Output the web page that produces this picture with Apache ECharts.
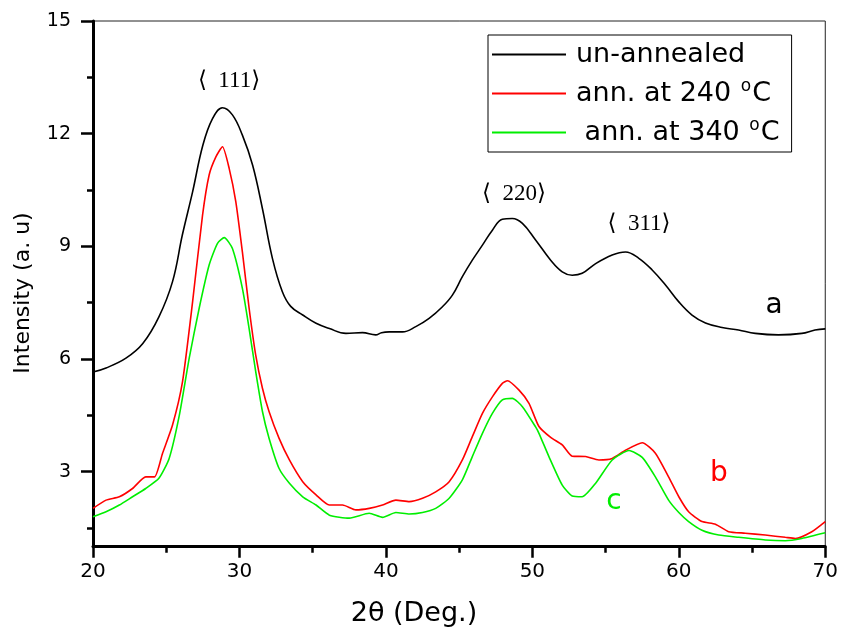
<!DOCTYPE html>
<html>
<head>
<meta charset="utf-8">
<script src="https://cdn.jsdelivr.net/npm/echarts@6/dist/echarts.min.js"></script>
<style>
html,body{margin:0;padding:0;background:#fff;}
#c{width:841px;height:631px;}
</style>
</head>
<body>
<div id="c"></div>
<script>
// ---- data ----
const seriesNames = ['un-annealed', 'ann. at 240 °C', ' ann. at 340 °C'];

const blackX = [20,20.89,22.25,23.4,24.5,25.43,26.1,26.8,27.5,28.16,28.84,29.52,30.2,30.9,31.57,32.25,32.93,33.5,34.32,35.23,36.14,37.27,38.4,39.3,39.7,40.23,41.13,42.04,42.95,43.86,44.54,45.22,45.9,46.59,47.27,47.95,48.63,49.32,50.22,51.25,52.04,52.72,53.4,54.32,55.45,56.36,57.27,58.18,59.09,60,60.9,61.82,62.95,64.08,65.22,66.8,68.4,69.3,70];
const blackY = [5.65,5.76,6.02,6.41,7.12,8.06,9.3,10.45,11.69,12.4,12.69,12.5,11.96,11.16,10.0,8.68,7.79,7.4,7.17,6.95,6.81,6.68,6.70,6.64,6.70,6.72,6.72,6.86,7.08,7.39,7.70,8.19,8.63,9.03,9.43,9.72,9.74,9.61,9.17,8.63,8.32,8.23,8.28,8.54,8.77,8.85,8.68,8.37,7.97,7.52,7.17,6.96,6.84,6.77,6.68,6.64,6.68,6.77,6.80];

const redX = [20,20.89,21.8,22.7,23.6,24.2,24.75,25.43,26.11,26.8,27.48,27.93,28.39,28.84,29.3,29.75,30.2,30.66,31.11,31.57,32.02,32.7,33.41,34.32,35.23,36.14,37.04,37.95,38.86,39.77,40.68,41.6,42.5,43.4,44.32,45.22,45.9,46.59,47.27,47.95,48.3,49.09,49.77,50.45,51.25,52.04,52.72,53.63,54.54,55.45,56.36,57.5,58.4,59.3,60,60.67,61.58,62.5,63.4,64.54,65.9,67.27,67.95,69.08,70];
const redY = [2.02,2.24,2.33,2.55,2.86,2.86,3.49,4.24,5.39,7.52,9.83,10.9,11.38,11.65,11.07,10.19,8.85,7.35,6.10,5.22,4.6,3.89,3.31,2.73,2.38,2.11,2.11,1.98,2.02,2.11,2.24,2.2,2.29,2.46,2.73,3.31,3.93,4.55,4.99,5.35,5.42,5.17,4.82,4.2,3.91,3.71,3.41,3.40,3.31,3.35,3.57,3.77,3.49,2.86,2.33,1.93,1.67,1.6,1.4,1.36,1.31,1.25,1.22,1.4,1.67];

const greenX = [20,20.89,21.8,22.7,23.6,24.5,25.2,25.9,26.57,27.25,27.93,28.5,28.96,29.52,30.2,30.66,31.11,31.57,32.02,32.7,33.41,34.32,35.23,36.14,37.5,38.86,39.77,40.68,41.6,42.5,43.4,44.32,45.22,45.9,46.59,47.27,47.95,48.63,49.32,50.22,50.45,51.13,52.04,52.72,53.4,54.32,55.45,56.6,57.5,58.4,59.3,60,60.67,61.58,62.73,64.08,65.9,67.27,68.4,70];
const greenY = [1.8,1.93,2.11,2.33,2.55,2.82,3.35,4.51,6.02,7.35,8.5,9.08,9.23,8.94,7.88,6.81,5.66,4.6,3.89,3.09,2.69,2.33,2.11,1.84,1.76,1.89,1.78,1.91,1.87,1.91,2.02,2.29,2.78,3.4,4.02,4.55,4.91,4.95,4.73,4.19,4.02,3.4,2.64,2.35,2.33,2.69,3.31,3.56,3.38,2.86,2.24,1.91,1.67,1.44,1.31,1.25,1.18,1.16,1.22,1.37];

const yMajorTicks = [3, 6, 9, 12, 15];
const yMinorTicks = [1.5, 4.5, 7.5, 10.5, 13.5];

const peakLabels = ['\u27E8  111\u27E9', '\u27E8  220\u27E9', '\u27E8  311\u27E9'];
const curveLetters = ['a', 'b', 'c'];

// ---- chart ----
const zip = (xs, ys) => xs.map((x, i) => [x, ys[i]]);
const colors = ['#000000', '#ff0000', '#00ee00'];
const FONT = "'DejaVu Sans', sans-serif";
const SERIF = "'Liberation Serif', 'DejaVu Serif', serif";

const chart = echarts.init(document.getElementById('c'), null, {renderer: 'canvas'});

chart.setOption({
  animation: false,
  backgroundColor: '#ffffff',
  grid: {left: 93, top: 21, width: 734.5, height: 525.7, show: true, borderColor: '#222', borderWidth: 1, backgroundColor: 'transparent'},
  xAxis: {
    type: 'value', min: 20, max: 70, interval: 10,
    axisLine: {lineStyle: {color: '#000', width: 3}},
    axisTick: {show: true, inside: false, length: 11, lineStyle: {color: '#000', width: 2.5}},
    minorTick: {show: true, splitNumber: 2, length: 6, lineStyle: {color: '#000', width: 2.5}},
    splitLine: {show: false},
    axisLabel: {fontSize: 20, color: '#000', fontFamily: FONT, margin: 15}
  },
  yAxis: [{
    type: 'value', min: 1, max: 15,
    axisLine: {show: true, lineStyle: {color: '#000', width: 3}},
    axisTick: {show: true, inside: false, length: 12, customValues: yMajorTicks, lineStyle: {color: '#000', width: 2.5}},
    axisLabel: {fontSize: 19, color: '#000', fontFamily: FONT, margin: 22, customValues: yMajorTicks},
    splitLine: {show: false}
  }, {
    type: 'value', min: 1, max: 15, position: 'left',
    axisLine: {show: false},
    axisTick: {show: true, inside: false, length: 6, customValues: yMinorTicks, lineStyle: {color: '#000', width: 2.5}},
    axisLabel: {show: false, customValues: yMinorTicks},
    splitLine: {show: false}
  }],
  legend: {
    left: 488, top: 35, orient: 'vertical',
    backgroundColor: '#fff', borderColor: '#000', borderWidth: 1,
    padding: [6, 12, 6, 4],
    itemGap: 10, itemWidth: 74, itemHeight: 2,
    icon: 'rect',
    data: seriesNames,
    formatter: function (name) {
      const parts = name.split('°');
      if (parts.length === 1) return '{p|}{t|' + name + '}';
      return '{p|}{t|' + parts[0] + '}{s|o}{t|' + parts[1] + '}';
    },
    textStyle: {
      color: '#000', fontFamily: FONT, fontSize: 27,
      rich: {
        p: {width: 5},
        t: {fontSize: 27, fontFamily: FONT, color: '#000', lineHeight: 30},
        s: {fontSize: 17, fontFamily: FONT, color: '#000', padding: [0, 1, 14, 1]}
      }
    }
  },
  series: [
    {name: seriesNames[0], type: 'line', data: zip(blackX, blackY), symbol: 'none', smooth: 0.4, lineStyle: {color: colors[0], width: 1.6}, itemStyle: {color: colors[0]}},
    {name: seriesNames[1], type: 'line', data: zip(redX, redY), symbol: 'none', smooth: 0.2, lineStyle: {color: colors[1], width: 1.6}, itemStyle: {color: colors[1]}},
    {name: seriesNames[2], type: 'line', data: zip(greenX, greenY), symbol: 'none', smooth: 0.2, lineStyle: {color: colors[2], width: 1.6}, itemStyle: {color: colors[2]}}
  ],
  graphic: [
    {type: 'text', x: 229, y: 81, style: {text: peakLabels[0], font: "23px " + SERIF, fill: '#000', textAlign: 'center', textVerticalAlign: 'middle'}},
    {type: 'text', x: 514, y: 194, style: {text: peakLabels[1], font: "23px " + SERIF, fill: '#000', textAlign: 'center', textVerticalAlign: 'middle'}},
    {type: 'text', x: 639, y: 224, style: {text: peakLabels[2], font: "23px " + SERIF, fill: '#000', textAlign: 'center', textVerticalAlign: 'middle'}},
    {type: 'text', x: 774, y: 306, style: {text: curveLetters[0], font: "28px " + FONT, fill: colors[0], textAlign: 'center', textVerticalAlign: 'middle'}},
    {type: 'text', x: 719, y: 474, style: {text: curveLetters[1], font: "28px " + FONT, fill: colors[1], textAlign: 'center', textVerticalAlign: 'middle'}},
    {type: 'text', x: 614, y: 502, style: {text: curveLetters[2], font: "28px " + FONT, fill: colors[2], textAlign: 'center', textVerticalAlign: 'middle'}},
    {type: 'text', x: 414, y: 614, style: {text: '2\u03B8 (Deg.)', font: "27px " + FONT, fill: '#000', textAlign: 'center', textVerticalAlign: 'middle'}},
    {type: 'text', x: 23, y: 293, rotation: Math.PI / 2, style: {text: 'Intensity (a. u)', font: "22px " + FONT, fill: '#000', textAlign: 'center', textVerticalAlign: 'middle'}}
  ]
});
</script>
</body>
</html>
